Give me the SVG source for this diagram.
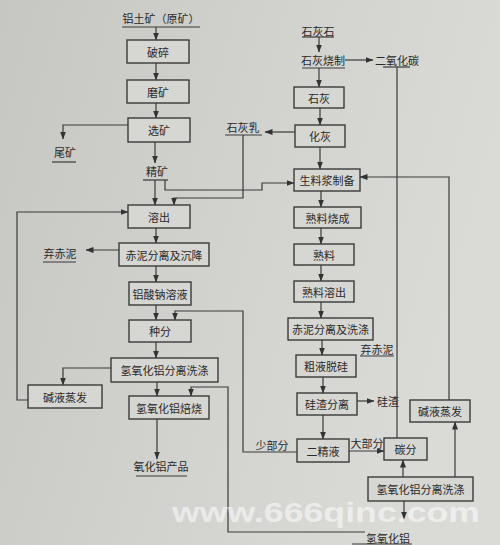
<svg xmlns="http://www.w3.org/2000/svg" width="500" height="545" viewBox="0 0 500 545">
<defs>
<linearGradient id="bg" x1="0" y1="0" x2="1" y2="0.3">
<stop offset="0" stop-color="#c6c6c2"/>
<stop offset="0.6" stop-color="#d3d3cf"/>
<stop offset="1" stop-color="#dadad7"/>
</linearGradient>
<marker id="ah" markerWidth="8" markerHeight="6" refX="7.5" refY="3" orient="auto" markerUnits="userSpaceOnUse">
<path d="M0,0 L8,3 L0,6 Z" fill="#333"/>
</marker>
</defs>
<style>
.box{fill:#d6d6d2;stroke:#3a3a3a;stroke-width:1.4}
.ln{fill:none;stroke:#3a3a3a;stroke-width:1.2}
.ar{fill:none;stroke:#3a3a3a;stroke-width:1.2;marker-end:url(#ah)}
.ul{stroke:#3a3a3a;stroke-width:1.2}
text{font-family:"Noto Sans CJK SC","Noto Sans",sans-serif;font-size:11px;fill:#2a2a2a;text-anchor:middle;dominant-baseline:central}
.wm{font-family:"Liberation Sans",Arial,sans-serif;font-weight:bold;font-size:27px;fill:#ffffff;fill-opacity:0.55;text-anchor:start;dominant-baseline:auto}
</style>
<rect x="0" y="0" width="500" height="545" fill="url(#bg)"/>

<g id="connectors">
<!-- left column -->
<path class="ar" d="M156,27 V40"/>
<path class="ar" d="M156,63 V80"/>
<path class="ar" d="M156,103 V118"/>
<path class="ar" d="M128,125 H63 V139"/>
<path class="ar" d="M155,142 V163"/>
<path class="ar" d="M155,180 V205"/>
<path class="ar" d="M165,180 V190 H262 V183 H294"/>
<path class="ar" d="M243,135 V198 H174 V205"/>
<path class="ar" d="M295,132 H265"/>
<path class="ar" d="M156,228 V243"/>
<path class="ar" d="M120,250 H86"/>
<path class="ar" d="M156,266 V282"/>
<path class="ar" d="M156,305 V320"/>
<path class="ar" d="M156,342 V358"/>
<path class="ar" d="M111,368 H63 V385"/>
<path class="ar" d="M28,400 H17 V212 H128"/>
<path class="ar" d="M157,382 V396"/>
<path class="ar" d="M157,419 V459"/>
<path class="ar" d="M297,452 H243 V311 H175 V320"/>
<path class="ar" d="M365,532 H228 V387 H191 V396"/>
<!-- right column -->
<path class="ar" d="M319,37 V52"/>
<path class="ar" d="M345,60 H373"/>
<path class="ln" d="M397,67 V438"/>
<path class="ar" d="M319,68 V87"/>
<path class="ar" d="M320,108 V125"/>
<path class="ar" d="M320,147 V169"/>
<path class="ar" d="M449,400 V177 H360"/>
<path class="ar" d="M321,191 V207"/>
<path class="ar" d="M321,228 V244"/>
<path class="ar" d="M321,265 V281"/>
<path class="ar" d="M321,302 V318"/>
<path class="ar" d="M322,340 V355"/>
<path class="ar" d="M323,377 V393"/>
<path class="ar" d="M357,401 H374"/>
<path class="ar" d="M323,415 V439"/>
<path class="ar" d="M349,451 H384"/>
<path class="ar" d="M403,477 V460"/>
<path class="ar" d="M455,477 V422"/>
<path class="ar" d="M404,501 V519"/>
</g>

<g id="n-ore"><text x="161" y="18">铝土矿（原矿）</text><line class="ul" x1="122" y1="27" x2="200" y2="27"/></g>
<g id="n-crush"><rect class="box" x="127" y="40" width="62" height="23"/><text x="158" y="51.5">破碎</text></g>
<g id="n-grind"><rect class="box" x="127" y="80" width="62" height="23"/><text x="158" y="91.5">磨矿</text></g>
<g id="n-dress"><rect class="box" x="128" y="118" width="62" height="24"/><text x="159" y="130">选矿</text></g>
<g id="n-tail"><text x="65" y="152">尾矿</text><line class="ul" x1="52" y1="162" x2="76" y2="162"/></g>
<g id="n-conc"><text x="157" y="171">精矿</text><line class="ul" x1="143" y1="180" x2="168" y2="180"/></g>
<g id="n-milk"><text x="243" y="127">石灰乳</text><line class="ul" x1="225" y1="135" x2="262" y2="135"/></g>
<g id="n-digest"><rect class="box" x="128" y="205" width="62" height="23"/><text x="159" y="216.5">溶出</text></g>
<g id="n-rm1"><rect class="box" x="119" y="243" width="90" height="23"/><text x="164" y="254.5">赤泥分离及沉降</text></g>
<g id="n-waste1"><text x="60" y="253">弃赤泥</text><line class="ul" x1="43" y1="262" x2="76" y2="262"/></g>
<g id="n-aluminate"><rect class="box" x="129" y="282" width="62" height="23"/><text x="160" y="293.5">铝酸钠溶液</text></g>
<g id="n-seed"><rect class="box" x="129" y="320" width="62" height="22"/><text x="160" y="331">种分</text></g>
<g id="n-wash1"><rect class="box" x="111" y="358" width="107" height="24"/><text x="164.5" y="370">氢氧化铝分离洗涤</text></g>
<g id="n-evap1"><rect class="box" x="28" y="385" width="74" height="23"/><text x="65" y="396.5">碱液蒸发</text></g>
<g id="n-calc"><rect class="box" x="129" y="396" width="80" height="23"/><text x="169" y="407.5">氢氧化铝焙烧</text></g>
<g id="n-product"><text x="161" y="466">氧化铝产品</text><line class="ul" x1="136" y1="476" x2="187" y2="476"/></g>

<g id="n-limestone"><text x="318" y="31">石灰石</text><line class="ul" x1="302" y1="37" x2="334" y2="37"/></g>
<g id="n-burn"><text x="323" y="60">石灰烧制</text><line class="ul" x1="302" y1="68" x2="345" y2="68"/></g>
<g id="n-co2"><text x="397" y="60">二氧化碳</text><line class="ul" x1="383" y1="67" x2="410" y2="67"/></g>
<g id="n-lime"><rect class="box" x="294" y="87" width="50" height="21"/><text x="319" y="97.5">石灰</text></g>
<g id="n-slake"><rect class="box" x="295" y="125" width="50" height="22"/><text x="320" y="136">化灰</text></g>
<g id="n-slurry"><rect class="box" x="294" y="169" width="66" height="22"/><text x="327" y="180">生料浆制备</text></g>
<g id="n-sinter"><rect class="box" x="294" y="207" width="67" height="21"/><text x="327.5" y="217.5">熟料烧成</text></g>
<g id="n-clinker"><rect class="box" x="294" y="244" width="60" height="21"/><text x="324" y="254.5">熟料</text></g>
<g id="n-leach"><rect class="box" x="294" y="281" width="60" height="21"/><text x="324" y="291.5">熟料溶出</text></g>
<g id="n-rm2"><rect class="box" x="288" y="318" width="85" height="22"/><text x="330.5" y="329">赤泥分离及洗涤</text></g>
<g id="n-waste2"><text x="377" y="349">弃赤泥</text><line class="ul" x1="360" y1="356" x2="394" y2="356"/></g>
<g id="n-desil"><rect class="box" x="296" y="355" width="60" height="22"/><text x="326" y="366">粗液脱硅</text></g>
<g id="n-silsep"><rect class="box" x="297" y="393" width="60" height="22"/><text x="327" y="404">硅渣分离</text></g>
<g id="n-slag"><text x="388" y="401">硅渣</text></g>
<g id="n-second"><rect class="box" x="297" y="439" width="52" height="23"/><text x="323" y="450.5">二精液</text></g>
<g id="n-minor"><text x="272" y="445">少部分</text></g>
<g id="n-major"><text x="367" y="443">大部分</text></g>
<g id="n-carb"><rect class="box" x="384" y="438" width="43" height="22"/><text x="405.5" y="449">碳分</text></g>
<g id="n-evap2"><rect class="box" x="410" y="400" width="60" height="22"/><text x="440" y="411">碱液蒸发</text></g>
<g id="n-wash2"><rect class="box" x="368" y="477" width="105" height="24"/><text x="420.5" y="489">氢氧化铝分离洗涤</text></g>
<g id="n-hydrox"><text x="388" y="537.5">氢氧化铝</text><line class="ul" x1="352" y1="544" x2="412" y2="544"/></g>

<text class="wm" x="172" y="522" textLength="308" lengthAdjust="spacingAndGlyphs">www.666qinc.com</text>
</svg>
